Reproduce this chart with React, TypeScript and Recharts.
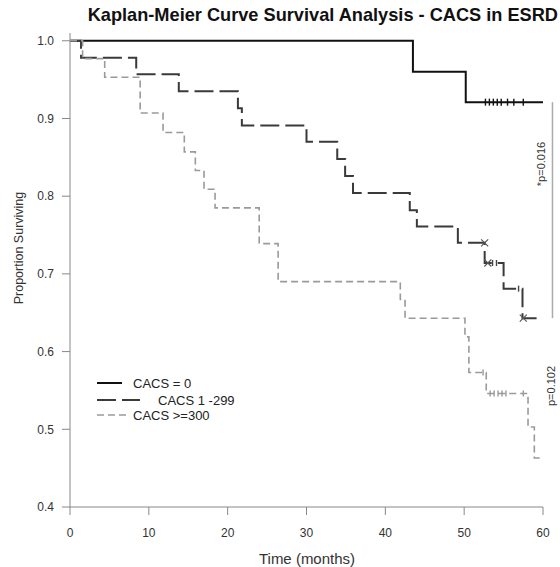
import React from 'react';
import { ComposedChart, Line, Scatter, XAxis, YAxis, ReferenceLine } from 'recharts';

// --- Kaplan-Meier step data (time in months, proportion surviving) ---
const cacs0Times = [0, 43.5, 50.2, 60];
const cacs0Surv = [1.0, 0.96, 0.921, 0.921];

const cacsMidTimes = [0, 1.4, 8.4, 13.8, 21.3, 21.8, 30.0, 33.9, 34.9, 35.9, 43.1, 44.0, 49.2, 52.6, 55.0, 57.4, 59.4];
const cacsMidSurv = [1.0, 0.978, 0.957, 0.935, 0.913, 0.891, 0.870, 0.848, 0.826, 0.804, 0.782, 0.761, 0.740, 0.714, 0.681, 0.643, 0.643];

const cacsHighTimes = [0, 1.6, 4.4, 8.9, 11.8, 14.5, 15.9, 17.0, 18.4, 24.0, 26.4, 41.9, 42.5, 50.1, 50.6, 52.8, 58.1, 58.9, 60];
const cacsHighSurv = [1.0, 0.977, 0.953, 0.907, 0.882, 0.857, 0.833, 0.809, 0.785, 0.739, 0.690, 0.667, 0.643, 0.619, 0.573, 0.546, 0.503, 0.463, 0.463];

// --- censored observations ---
const cacs0CensorTimes = [52.7, 53.2, 53.7, 54.2, 54.7, 55.5, 56.3, 57.5];
const cacs0CensorSurv = [0.921, 0.921, 0.921, 0.921, 0.921, 0.921, 0.921, 0.921];

const cacsMidCrossTimes = [52.6, 53.0, 57.5];
const cacsMidCrossSurv = [0.740, 0.714, 0.643];
const cacsMidTickTimes = [53.6, 54.1, 56.9];
const cacsMidTickSurv = [0.714, 0.714, 0.681];

const cacsHighCensorTimes = [52.4, 53.3, 53.8, 54.3, 54.8, 55.3, 57.5];
const cacsHighCensorSurv = [0.573, 0.546, 0.546, 0.546, 0.546, 0.546, 0.546];

const timeTicks = [0, 10, 20, 30, 40, 50, 60];
const survTicks = [0.4, 0.5, 0.6, 0.7, 0.8, 0.9, 1.0];

const zip = (ts: number[], ps: number[]) => ts.map((t, i) => ({ t, p: ps[i] }));

const series = [
  { name: 'CACS = 0', data: zip(cacs0Times, cacs0Surv), color: '#111111', width: 2, dash: undefined as string | undefined, sampleLen: 25, textX: 133 },
  { name: 'CACS 1 -299', data: zip(cacsMidTimes, cacsMidSurv), color: '#3a3a3a', width: 2, dash: '19 6', sampleLen: 43, textX: 158 },
  { name: 'CACS >=300', data: zip(cacsHighTimes, cacsHighSurv), color: '#9a9a9a', width: 1.6, dash: '7 4', sampleLen: 30, textX: 133 },
];

const FONT = '"Liberation Sans", Arial, sans-serif';

const TickMark = (color: string, half: number) => (props: any) => {
  const { cx, cy } = props;
  return <line x1={cx} x2={cx} y1={cy - half} y2={cy + half} stroke={color} strokeWidth={1.4} />;
};

const CrossMark = (color: string) => (props: any) => {
  const { cx, cy } = props;
  const r = 3.5;
  return (
    <g stroke={color} strokeWidth={1.1}>
      <line x1={cx - r} y1={cy - r} x2={cx + r} y2={cy + r} />
      <line x1={cx - r} y1={cy + r} x2={cx + r} y2={cy - r} />
    </g>
  );
};

const legendY = [383, 400, 415];

const App = () => {
  return (
    <div style={{ position: 'absolute', left: 0, top: 0, width: 560, height: 567, background: '#fff', fontFamily: FONT }}>
      <ComposedChart width={560} height={567} margin={{ top: 33, right: 17, left: 0, bottom: 0 }}>
        <XAxis
          type="number"
          dataKey="t"
          domain={[0, 60]}
          ticks={timeTicks}
          allowDataOverflow
          height={60}
          stroke="#888"
          tickSize={8}
          tickMargin={13}
          tick={{ fill: '#333', fontSize: 12, fontFamily: FONT }}
        />
        <YAxis
          type="number"
          dataKey="p"
          domain={[0.4, 1.01]}
          ticks={survTicks}
          allowDataOverflow
          width={70}
          stroke="#888"
          tickSize={8}
          tickMargin={8}
          tickFormatter={(v: number) => v.toFixed(1)}
          tick={{ fill: '#333', fontSize: 12, fontFamily: FONT }}
        />
        {series.map((s) => (
          <Line
            key={s.name}
            data={s.data}
            dataKey="p"
            type="stepAfter"
            stroke={s.color}
            strokeWidth={s.width}
            strokeDasharray={s.dash}
            dot={false}
            activeDot={false}
            isAnimationActive={false}
          />
        ))}
        <Scatter data={zip(cacs0CensorTimes, cacs0CensorSurv)} shape={TickMark('#111', 3.5)} isAnimationActive={false} />
        <Scatter data={zip(cacsMidCrossTimes, cacsMidCrossSurv)} shape={CrossMark('#555')} isAnimationActive={false} />
        <Scatter data={zip(cacsMidTickTimes, cacsMidTickSurv)} shape={TickMark('#444', 3)} isAnimationActive={false} />
        <Scatter data={zip(cacsHighCensorTimes, cacsHighCensorSurv)} shape={TickMark('#999', 3)} isAnimationActive={false} />
        <ReferenceLine
          segment={[{ x: 61.2, y: 0.921 }, { x: 61.2, y: 0.643 }]}
          ifOverflow="visible"
          stroke="#aaa"
          strokeWidth={1.5}
        />
      </ComposedChart>

      <svg width={560} height={567} style={{ position: 'absolute', left: 0, top: 0, pointerEvents: 'none' }} fontFamily={FONT}>
        <text x={558} y={21} textAnchor="end" fontSize={18.2} fontWeight="bold" fill="#111">
          Kaplan-Meier Curve Survival Analysis - CACS in ESRD
        </text>
        <text transform="translate(23,248) rotate(-90)" textAnchor="middle" fontSize={12.5} fill="#333">
          Proportion Surviving
        </text>
        <text x={307} y={564} textAnchor="middle" fontSize={15} fill="#333">
          Time (months)
        </text>
        <text transform="translate(545,164) rotate(-90)" textAnchor="middle" fontSize={11} fill="#333">
          *p=0.016
        </text>
        <text transform="translate(555,386) rotate(-90)" textAnchor="middle" fontSize={11} fill="#333">
          p=0.102
        </text>
        {series.map((s, i) => (
          <g key={s.name}>
            <line
              x1={97}
              x2={97 + s.sampleLen}
              y1={legendY[i]}
              y2={legendY[i]}
              stroke={s.color}
              strokeWidth={s.width}
              strokeDasharray={s.dash}
            />
            <text x={s.textX} y={legendY[i] + 4.5} fontSize={13} fill="#222">
              {s.name}
            </text>
          </g>
        ))}
      </svg>
    </div>
  );
};

export default App;
